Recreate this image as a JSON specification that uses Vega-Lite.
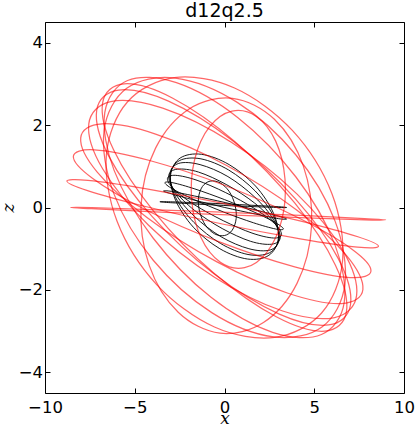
{
"$schema":"https://vega.github.io/schema/vega-lite/v6.json",
"width":359,"height":371,
"autosize":{"type":"none"},
"padding":{"left":45,"top":22,"right":12,"bottom":34},
"background":"white",
"title":{"text":"d12q2.5","font":"DejaVu Sans","fontSize":19,"fontWeight":"normal","color":"black","offset":1,"anchor":"middle"},
"config":{"view":{"stroke":"black","strokeWidth":1}},
"datasets":{
"black":[
{"loop":"b1","i":0,"x":3.46,"z":0.0},{"loop":"b1","i":1,"x":2.99,"z":0.02},{"loop":"b1","i":2,"x":1.7,"z":0.05},{"loop":"b1","i":3,"x":-0.07,"z":0.09},{"loop":"b1","i":4,"x":-1.84,"z":0.12},{"loop":"b1","i":5,"x":-3.13,"z":0.14},{"loop":"b1","i":6,"x":-3.6,"z":0.14},{"loop":"b1","i":7,"x":-3.13,"z":0.12},{"loop":"b1","i":8,"x":-1.84,"z":0.09},{"loop":"b1","i":9,"x":-0.07,"z":0.05},{"loop":"b1","i":10,"x":1.7,"z":0.02},{"loop":"b1","i":11,"x":2.99,"z":0.0},
{"loop":"b2","i":0,"x":3.46,"z":-0.28},{"loop":"b2","i":1,"x":3.01,"z":-0.21},{"loop":"b2","i":2,"x":1.75,"z":-0.06},{"loop":"b2","i":3,"x":0.04,"z":0.12},{"loop":"b2","i":4,"x":-1.68,"z":0.28},{"loop":"b2","i":5,"x":-2.94,"z":0.39},{"loop":"b2","i":6,"x":-3.4,"z":0.4},{"loop":"b2","i":7,"x":-2.95,"z":0.33},{"loop":"b2","i":8,"x":-1.69,"z":0.18},{"loop":"b2","i":9,"x":0.02,"z":0.0},{"loop":"b2","i":10,"x":1.74,"z":-0.16},{"loop":"b2","i":11,"x":3.0,"z":-0.27},
{"loop":"b3","i":0,"x":3.28,"z":-0.52},{"loop":"b3","i":1,"x":2.85,"z":-0.37},{"loop":"b3","i":2,"x":1.65,"z":-0.11},{"loop":"b3","i":3,"x":0.01,"z":0.19},{"loop":"b3","i":4,"x":-1.65,"z":0.45},{"loop":"b3","i":5,"x":-2.87,"z":0.6},{"loop":"b3","i":6,"x":-3.32,"z":0.6},{"loop":"b3","i":7,"x":-2.89,"z":0.45},{"loop":"b3","i":8,"x":-1.69,"z":0.19},{"loop":"b3","i":9,"x":-0.05,"z":-0.11},{"loop":"b3","i":10,"x":1.61,"z":-0.37},{"loop":"b3","i":11,"x":2.83,"z":-0.52},
{"loop":"b4","i":0,"x":3.18,"z":-0.66},{"loop":"b4","i":1,"x":2.79,"z":-0.39},{"loop":"b4","i":2,"x":1.65,"z":-0.02},{"loop":"b4","i":3,"x":0.07,"z":0.36},{"loop":"b4","i":4,"x":-1.53,"z":0.66},{"loop":"b4","i":5,"x":-2.72,"z":0.78},{"loop":"b4","i":6,"x":-3.18,"z":0.7},{"loop":"b4","i":7,"x":-2.79,"z":0.43},{"loop":"b4","i":8,"x":-1.65,"z":0.06},{"loop":"b4","i":9,"x":-0.07,"z":-0.32},{"loop":"b4","i":10,"x":1.53,"z":-0.62},{"loop":"b4","i":11,"x":2.72,"z":-0.74},
{"loop":"b5","i":0,"x":3.11,"z":-0.73},{"loop":"b5","i":1,"x":2.76,"z":-0.36},{"loop":"b5","i":2,"x":1.67,"z":0.11},{"loop":"b5","i":3,"x":0.13,"z":0.55},{"loop":"b5","i":4,"x":-1.45,"z":0.86},{"loop":"b5","i":5,"x":-2.63,"z":0.93},{"loop":"b5","i":6,"x":-3.11,"z":0.77},{"loop":"b5","i":7,"x":-2.76,"z":0.4},{"loop":"b5","i":8,"x":-1.67,"z":-0.07},{"loop":"b5","i":9,"x":-0.13,"z":-0.51},{"loop":"b5","i":10,"x":1.45,"z":-0.82},{"loop":"b5","i":11,"x":2.63,"z":-0.89},
{"loop":"b6","i":0,"x":3.05,"z":-0.77},{"loop":"b6","i":1,"x":2.74,"z":-0.3},{"loop":"b6","i":2,"x":1.69,"z":0.25},{"loop":"b6","i":3,"x":0.19,"z":0.75},{"loop":"b6","i":4,"x":-1.36,"z":1.04},{"loop":"b6","i":5,"x":-2.55,"z":1.07},{"loop":"b6","i":6,"x":-3.05,"z":0.81},{"loop":"b6","i":7,"x":-2.74,"z":0.34},{"loop":"b6","i":8,"x":-1.69,"z":-0.21},{"loop":"b6","i":9,"x":-0.19,"z":-0.71},{"loop":"b6","i":10,"x":1.36,"z":-1.0},{"loop":"b6","i":11,"x":2.55,"z":-1.03},
{"loop":"b7","i":0,"x":3.02,"z":-0.76},{"loop":"b7","i":1,"x":2.73,"z":-0.21},{"loop":"b7","i":2,"x":1.71,"z":0.4},{"loop":"b7","i":3,"x":0.23,"z":0.91},{"loop":"b7","i":4,"x":-1.31,"z":1.18},{"loop":"b7","i":5,"x":-2.5,"z":1.14},{"loop":"b7","i":6,"x":-3.02,"z":0.8},{"loop":"b7","i":7,"x":-2.73,"z":0.25},{"loop":"b7","i":8,"x":-1.71,"z":-0.36},{"loop":"b7","i":9,"x":-0.23,"z":-0.87},{"loop":"b7","i":10,"x":1.31,"z":-1.14},{"loop":"b7","i":11,"x":2.5,"z":-1.1},
{"loop":"b8","i":0,"x":3.0,"z":-0.75},{"loop":"b8","i":1,"x":2.73,"z":-0.14},{"loop":"b8","i":2,"x":1.73,"z":0.52},{"loop":"b8","i":3,"x":0.26,"z":1.04},{"loop":"b8","i":4,"x":-1.28,"z":1.29},{"loop":"b8","i":5,"x":-2.47,"z":1.2},{"loop":"b8","i":6,"x":-3.0,"z":0.79},{"loop":"b8","i":7,"x":-2.73,"z":0.18},{"loop":"b8","i":8,"x":-1.73,"z":-0.48},{"loop":"b8","i":9,"x":-0.26,"z":-1.0},{"loop":"b8","i":10,"x":1.28,"z":-1.25},{"loop":"b8","i":11,"x":2.47,"z":-1.16},
{"loop":"b9","i":0,"x":0.65,"z":-0.27},{"loop":"b9","i":1,"x":0.58,"z":0.07},{"loop":"b9","i":2,"x":0.26,"z":0.39},{"loop":"b9","i":3,"x":-0.25,"z":0.6},{"loop":"b9","i":4,"x":-0.8,"z":0.64},{"loop":"b9","i":5,"x":-1.23,"z":0.51},{"loop":"b9","i":6,"x":-1.45,"z":0.23},{"loop":"b9","i":7,"x":-1.38,"z":-0.11},{"loop":"b9","i":8,"x":-1.06,"z":-0.43},{"loop":"b9","i":9,"x":-0.55,"z":-0.64},{"loop":"b9","i":10,"x":0.0,"z":-0.68},{"loop":"b9","i":11,"x":0.43,"z":-0.55}
],
"red":[
{"loop":"r1","i":0,"x":8.98,"z":-0.3},{"loop":"r1","i":1,"x":7.8,"z":-0.27},{"loop":"r1","i":2,"x":4.59,"z":-0.2},{"loop":"r1","i":3,"x":0.2,"z":-0.12},{"loop":"r1","i":4,"x":-4.19,"z":-0.05},{"loop":"r1","i":5,"x":-7.4,"z":0.0},{"loop":"r1","i":6,"x":-8.58,"z":0.0},{"loop":"r1","i":7,"x":-7.4,"z":-0.03},{"loop":"r1","i":8,"x":-4.19,"z":-0.1},{"loop":"r1","i":9,"x":0.2,"z":-0.18},{"loop":"r1","i":10,"x":4.59,"z":-0.25},{"loop":"r1","i":11,"x":7.8,"z":-0.3},
{"loop":"r2","i":0,"x":8.58,"z":-0.94},{"loop":"r2","i":1,"x":7.43,"z":-0.71},{"loop":"r2","i":2,"x":4.26,"z":-0.33},{"loop":"r2","i":3,"x":-0.08,"z":0.1},{"loop":"r2","i":4,"x":-4.42,"z":0.46},{"loop":"r2","i":5,"x":-7.61,"z":0.66},{"loop":"r2","i":6,"x":-8.78,"z":0.64},{"loop":"r2","i":7,"x":-7.63,"z":0.41},{"loop":"r2","i":8,"x":-4.46,"z":0.03},{"loop":"r2","i":9,"x":-0.12,"z":-0.4},{"loop":"r2","i":10,"x":4.22,"z":-0.76},{"loop":"r2","i":11,"x":7.41,"z":-0.96},
{"loop":"r3","i":0,"x":8.16,"z":-1.54},{"loop":"r3","i":1,"x":7.1,"z":-1.01},{"loop":"r3","i":2,"x":4.11,"z":-0.25},{"loop":"r3","i":3,"x":-0.01,"z":0.54},{"loop":"r3","i":4,"x":-4.17,"z":1.14},{"loop":"r3","i":5,"x":-7.25,"z":1.4},{"loop":"r3","i":6,"x":-8.42,"z":1.24},{"loop":"r3","i":7,"x":-7.36,"z":0.71},{"loop":"r3","i":8,"x":-4.37,"z":-0.06},{"loop":"r3","i":9,"x":-0.25,"z":-0.84},{"loop":"r3","i":10,"x":3.91,"z":-1.44},{"loop":"r3","i":11,"x":6.99,"z":-1.7},
{"loop":"r4","i":0,"x":7.71,"z":-1.99},{"loop":"r4","i":1,"x":6.79,"z":-1.16},{"loop":"r4","i":2,"x":4.02,"z":-0.06},{"loop":"r4","i":3,"x":0.12,"z":1.02},{"loop":"r4","i":4,"x":-3.84,"z":1.78},{"loop":"r4","i":5,"x":-6.82,"z":2.03},{"loop":"r4","i":6,"x":-8.01,"z":1.69},{"loop":"r4","i":7,"x":-7.09,"z":0.86},{"loop":"r4","i":8,"x":-4.32,"z":-0.24},{"loop":"r4","i":9,"x":-0.42,"z":-1.32},{"loop":"r4","i":10,"x":3.54,"z":-2.08},{"loop":"r4","i":11,"x":6.52,"z":-2.33},
{"loop":"r5","i":0,"x":7.36,"z":-2.13},{"loop":"r5","i":1,"x":6.59,"z":-1.04},{"loop":"r5","i":2,"x":4.03,"z":0.33},{"loop":"r5","i":3,"x":0.36,"z":1.59},{"loop":"r5","i":4,"x":-3.44,"z":2.41},{"loop":"r5","i":5,"x":-6.34,"z":2.57},{"loop":"r5","i":6,"x":-7.56,"z":2.03},{"loop":"r5","i":7,"x":-6.79,"z":0.94},{"loop":"r5","i":8,"x":-4.23,"z":-0.43},{"loop":"r5","i":9,"x":-0.56,"z":-1.69},{"loop":"r5","i":10,"x":3.24,"z":-2.51},{"loop":"r5","i":11,"x":6.14,"z":-2.67},
{"loop":"r6","i":0,"x":7.02,"z":-2.36},{"loop":"r6","i":1,"x":6.34,"z":-1.24},{"loop":"r6","i":2,"x":3.95,"z":0.21},{"loop":"r6","i":3,"x":0.49,"z":1.61},{"loop":"r6","i":4,"x":-3.12,"z":2.58},{"loop":"r6","i":5,"x":-5.9,"z":2.85},{"loop":"r6","i":6,"x":-7.12,"z":2.36},{"loop":"r6","i":7,"x":-6.44,"z":1.24},{"loop":"r6","i":8,"x":-4.05,"z":-0.21},{"loop":"r6","i":9,"x":-0.59,"z":-1.61},{"loop":"r6","i":10,"x":3.02,"z":-2.58},{"loop":"r6","i":11,"x":5.8,"z":-2.85},
{"loop":"r7","i":0,"x":6.79,"z":-2.54},{"loop":"r7","i":1,"x":6.18,"z":-1.4},{"loop":"r7","i":2,"x":3.91,"z":0.11},{"loop":"r7","i":3,"x":0.6,"z":1.59},{"loop":"r7","i":4,"x":-2.88,"z":2.65},{"loop":"r7","i":5,"x":-5.58,"z":3.0},{"loop":"r7","i":6,"x":-6.79,"z":2.54},{"loop":"r7","i":7,"x":-6.18,"z":1.4},{"loop":"r7","i":8,"x":-3.91,"z":-0.11},{"loop":"r7","i":9,"x":-0.6,"z":-1.59},{"loop":"r7","i":10,"x":2.88,"z":-2.65},{"loop":"r7","i":11,"x":5.58,"z":-3.0},
{"loop":"r8","i":0,"x":6.67,"z":-2.3},{"loop":"r8","i":1,"x":6.15,"z":-0.9},{"loop":"r8","i":2,"x":3.98,"z":0.74},{"loop":"r8","i":3,"x":0.75,"z":2.18},{"loop":"r8","i":4,"x":-2.68,"z":3.03},{"loop":"r8","i":5,"x":-5.4,"z":3.08},{"loop":"r8","i":6,"x":-6.67,"z":2.3},{"loop":"r8","i":7,"x":-6.15,"z":0.9},{"loop":"r8","i":8,"x":-3.98,"z":-0.74},{"loop":"r8","i":9,"x":-0.75,"z":-2.18},{"loop":"r8","i":10,"x":2.68,"z":-3.03},{"loop":"r8","i":11,"x":5.4,"z":-3.08},
{"loop":"r9","i":0,"x":6.71,"z":-1.86},{"loop":"r9","i":1,"x":6.16,"z":-0.33},{"loop":"r9","i":2,"x":3.97,"z":1.28},{"loop":"r9","i":3,"x":0.71,"z":2.55},{"loop":"r9","i":4,"x":-2.74,"z":3.14},{"loop":"r9","i":5,"x":-5.45,"z":2.89},{"loop":"r9","i":6,"x":-6.71,"z":1.86},{"loop":"r9","i":7,"x":-6.16,"z":0.33},{"loop":"r9","i":8,"x":-3.97,"z":-1.28},{"loop":"r9","i":9,"x":-0.71,"z":-2.55},{"loop":"r9","i":10,"x":2.74,"z":-3.14},{"loop":"r9","i":11,"x":5.45,"z":-2.89},
{"loop":"r10","i":0,"x":6.58,"z":-1.28},{"loop":"r10","i":1,"x":5.98,"z":0.34},{"loop":"r10","i":2,"x":3.78,"z":1.87},{"loop":"r10","i":3,"x":0.56,"z":2.9},{"loop":"r10","i":4,"x":-2.8,"z":3.15},{"loop":"r10","i":5,"x":-5.41,"z":2.56},{"loop":"r10","i":6,"x":-6.58,"z":1.28},{"loop":"r10","i":7,"x":-5.98,"z":-0.34},{"loop":"r10","i":8,"x":-3.78,"z":-1.87},{"loop":"r10","i":9,"x":-0.56,"z":-2.9},{"loop":"r10","i":10,"x":2.8,"z":-3.15},{"loop":"r10","i":11,"x":5.41,"z":-2.56},
{"loop":"r11","i":0,"x":4.85,"z":-0.45},{"loop":"r11","i":1,"x":4.39,"z":1.01},{"loop":"r11","i":2,"x":2.78,"z":2.14},{"loop":"r11","i":3,"x":0.45,"z":2.65},{"loop":"r11","i":4,"x":-1.97,"z":2.39},{"loop":"r11","i":5,"x":-3.84,"z":1.44},{"loop":"r11","i":6,"x":-4.65,"z":0.05},{"loop":"r11","i":7,"x":-4.19,"z":-1.41},{"loop":"r11","i":8,"x":-2.58,"z":-2.54},{"loop":"r11","i":9,"x":-0.25,"z":-3.05},{"loop":"r11","i":10,"x":2.17,"z":-2.79},{"loop":"r11","i":11,"x":4.04,"z":-1.84},
{"loop":"r12","i":0,"x":3.37,"z":0.69},{"loop":"r12","i":1,"x":2.85,"z":1.61},{"loop":"r12","i":2,"x":1.77,"z":2.21},{"loop":"r12","i":3,"x":0.42,"z":2.34},{"loop":"r12","i":4,"x":-0.83,"z":1.96},{"loop":"r12","i":5,"x":-1.66,"z":1.17},{"loop":"r12","i":6,"x":-1.83,"z":0.19},{"loop":"r12","i":7,"x":-1.31,"z":-0.73},{"loop":"r12","i":8,"x":-0.23,"z":-1.33},{"loop":"r12","i":9,"x":1.12,"z":-1.46},{"loop":"r12","i":10,"x":2.37,"z":-1.08},{"loop":"r12","i":11,"x":3.2,"z":-0.29}
]},
"layer":[
{"data":{"name":"black"},
 "mark":{"type":"line","interpolate":"cardinal-closed","stroke":"black","strokeWidth":0.9},
 "encoding":{
  "x":{"field":"x","type":"quantitative","scale":{"domain":[-10,10],"nice":false,"zero":false},
       "axis":{"orient":"bottom","values":[-10,-5,0,5,10],"title":"x","titleFont":"DejaVu Serif","titleFontStyle":"italic","titleFontWeight":"normal","titleFontSize":17,"titleColor":"black","titleBaseline":"alphabetic","titleY":30.5,
               "labelFont":"DejaVu Sans","labelFontSize":16.5,"labelColor":"black","labelPadding":11,"labelFlush":false,"labelOverlap":false,"tickSize":-5,"tickColor":"black","domain":false,"grid":false}},
  "y":{"field":"z","type":"quantitative","scale":{"domain":[-4.5,4.5],"nice":false,"zero":false},
       "axis":{"orient":"left","values":[-4,-2,0,2,4],"title":"z","titleFont":"DejaVu Serif","titleFontStyle":"italic","titleFontWeight":"normal","titleFontSize":17,"titleColor":"black","titleBaseline":"alphabetic","titleX":-32,
               "labelFont":"DejaVu Sans","labelFontSize":16.5,"labelColor":"black","labelPadding":7.5,"labelFlush":false,"labelOverlap":false,"tickSize":-5,"tickColor":"black","domain":false,"grid":false}},
  "detail":{"field":"loop"},
  "order":{"field":"i","type":"quantitative"}}},
{"data":{"name":"red"},
 "mark":{"type":"line","interpolate":"cardinal-closed","stroke":"red","strokeOpacity":0.6,"strokeWidth":1.25},
 "encoding":{
  "x":{"field":"x","type":"quantitative","scale":{"domain":[-10,10],"nice":false,"zero":false},
       "axis":{"orient":"top","values":[-10,-5,0,5,10],"title":null,"labels":false,"tickSize":-5,"tickColor":"black","domain":false,"grid":false}},
  "y":{"field":"z","type":"quantitative","scale":{"domain":[-4.5,4.5],"nice":false,"zero":false},
       "axis":{"orient":"right","values":[-4,-2,0,2,4],"title":null,"labels":false,"tickSize":-5,"tickColor":"black","domain":false,"grid":false}},
  "detail":{"field":"loop"},
  "order":{"field":"i","type":"quantitative"}}}
],
"resolve":{"axis":{"x":"independent","y":"independent"}}
}
